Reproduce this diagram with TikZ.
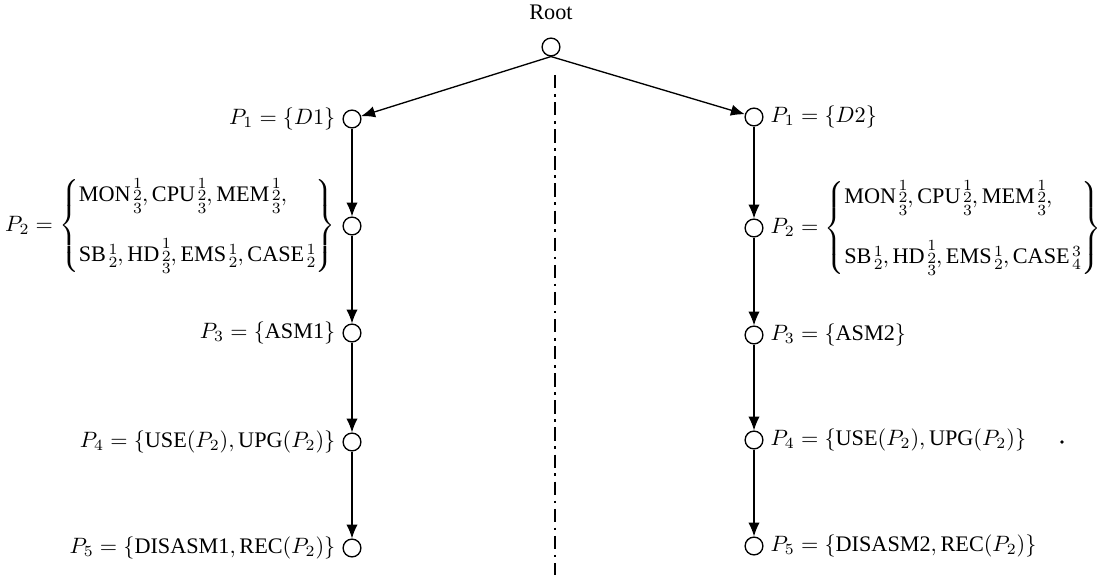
\documentclass[tikz,border=0pt]{standalone}
\usepackage{amsmath,amssymb}
\usepackage{fontspec}
\setmainfont{Liberation Serif}
\usepackage{tikz}
\usetikzlibrary{arrows.meta,positioning}
\newcommand{\tri}[1]{\textrm{#1}\mkern2mu\substack{1\\2\\3}}
\newcommand{\two}[3]{\textrm{#1}\mkern2mu\substack{#2\\#3}}
\tikzset{
  stagenode/.style={draw,circle,line width=0.6pt,minimum size=8pt,inner sep=0pt},
  stagelbl/.style={inner sep=1pt,font=\fontsize{10}{12}\selectfont},
  flowarr/.style={-{Latex[length=2.2mm,width=1.8mm]},line width=0.6pt},
  splitline/.style={line width=1.1pt,dash pattern=on 6pt off 2.5pt on 1.2pt off 2.5pt}
}
\begin{document}
\begin{tikzpicture}[x=0.45pt,y=-0.45pt]
  \useasboundingbox (0,0) rectangle (1102,575);
  % root
  \node[stagenode] (rt) at (551,47) {};
  \node[stagelbl,above=7pt of rt] (rtlbl) {Root};
  % dash-dot separator
  \coordinate (sepa) at (555,75);
  \coordinate (sepb) at (555,575);
  \draw[splitline] (sepa) -- (sepb);

  % left branch
  \node[stagenode] (l1) at (352,119) {};
  \node[stagenode] (l2) at (352,226) {};
  \node[stagenode] (l3) at (352,333) {};
  \node[stagenode] (l4) at (352,442) {};
  \node[stagenode] (l5) at (352,548) {};
  \node[stagelbl,left=2pt of l1] (l1lbl) {$P_1=\{D1\}$};
  \node[stagelbl,left=2pt of l2] (l2lbl) {$P_2=\left\{\begin{array}{@{}l@{}}
      \tri{MON},\tri{CPU},\tri{MEM},\\[13pt]
      \two{SB}{1}{2},\tri{HD},\two{EMS}{1}{2},\two{CASE}{1}{2}
    \end{array}\right\}$};
  \node[stagelbl,left=2pt of l3] (l3lbl) {$P_3=\{\textrm{ASM1}\}$};
  \node[stagelbl,left=2pt of l4] (l4lbl) {$P_4=\{\textrm{USE}(P_2),\textrm{UPG}(P_2)\}$};
  \node[stagelbl,left=2pt of l5] (l5lbl) {$P_5=\{\textrm{DISASM1},\textrm{REC}(P_2)\}$};

  % right branch
  \node[stagenode] (r1) at (754,117) {};
  \node[stagenode] (r2) at (754,228) {};
  \node[stagenode] (r3) at (754,335) {};
  \node[stagenode] (r4) at (754,440) {};
  \node[stagenode] (r5) at (754,546) {};
  \node[stagelbl,right=2pt of r1] (r1lbl) {$P_1=\{D2\}$};
  \node[stagelbl,right=2pt of r2] (r2lbl) {$P_2=\left\{\begin{array}{@{}l@{}}
      \tri{MON},\tri{CPU},\tri{MEM},\\[13pt]
      \two{SB}{1}{2},\tri{HD},\two{EMS}{1}{2},\two{CASE}{3}{4}
    \end{array}\right\}$};
  \node[stagelbl,right=2pt of r3] (r3lbl) {$P_3=\{\textrm{ASM2}\}$};
  \node[stagelbl,right=2pt of r4] (r4lbl) {$P_4=\{\textrm{USE}(P_2),\textrm{UPG}(P_2)\}$};
  \node[stagelbl,right=2pt of r5] (r5lbl) {$P_5=\{\textrm{DISASM2},\textrm{REC}(P_2)\}$};
  \fill (1062,442) circle (0.8pt);

  % connectors
  \draw[flowarr] (rt.south) -- (l1);
  \draw[flowarr] (rt.south) -- (r1);
  \foreach \a/\b in {1/2,2/3,3/4,4/5} {
    \draw[flowarr] (l\a) -- (l\b);
    \draw[flowarr] (r\a) -- (r\b);
  }
\end{tikzpicture}
\end{document}
